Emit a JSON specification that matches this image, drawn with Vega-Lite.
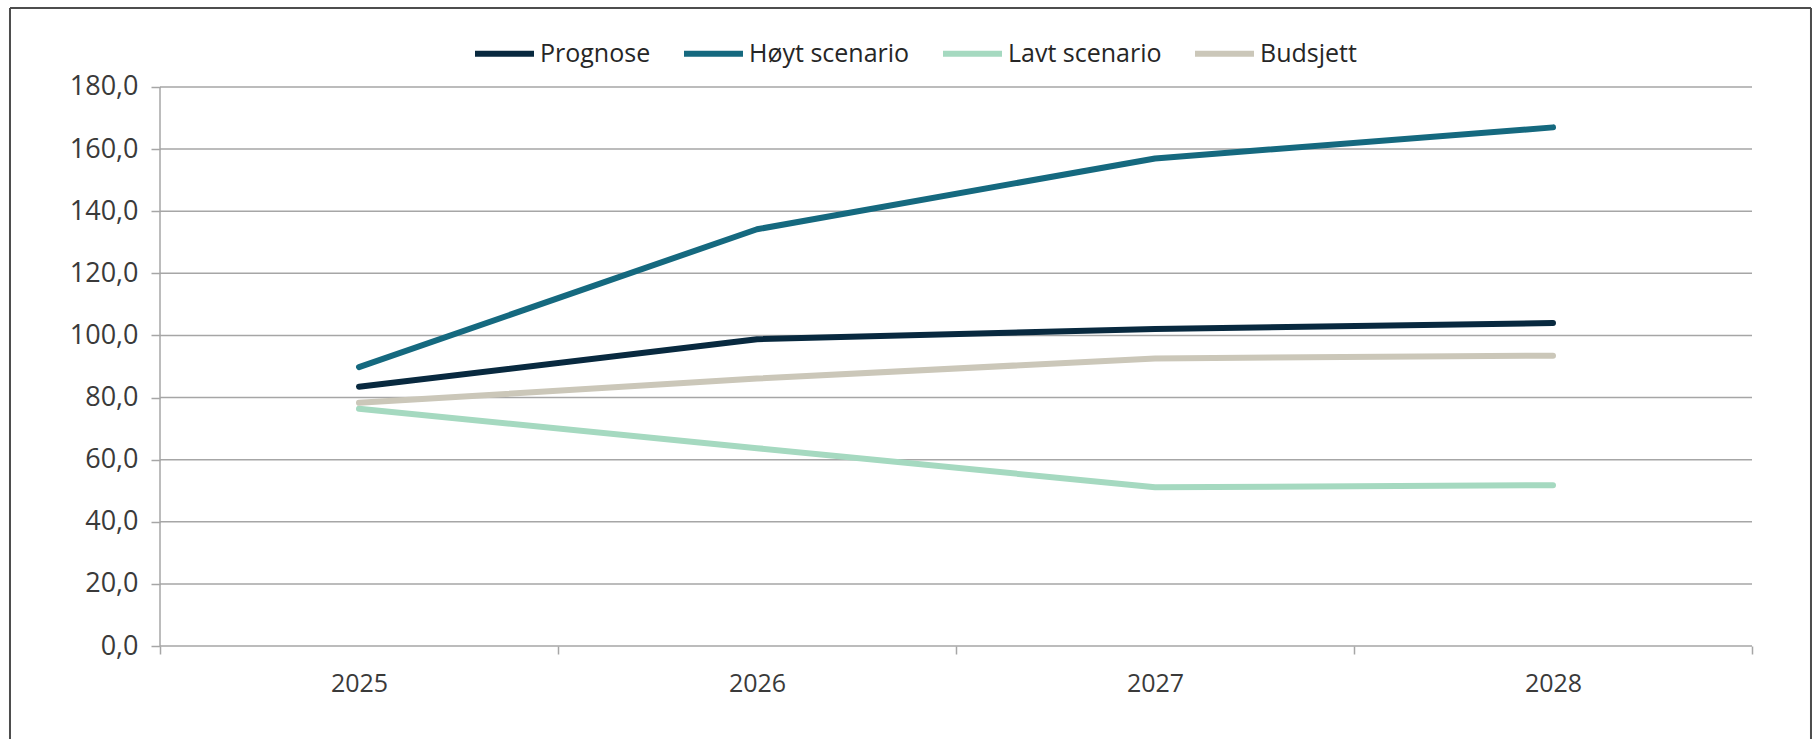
{
  "$schema": "https://vega.github.io/schema/vega-lite/v6.json",
  "width": 1803,
  "height": 732,
  "autosize": {"type": "none"},
  "padding": {"left": 9, "top": 7, "right": 1, "bottom": 0},
  "background": "white",
  "config": {
    "view": {"stroke": null},
    "font": "Open Sans"
  },
  "datasets": {
    "series": [
      {"year": 2025, "serie": "Prognose", "value": 83.5},
      {"year": 2026, "serie": "Prognose", "value": 98.8},
      {"year": 2027, "serie": "Prognose", "value": 102.1},
      {"year": 2028, "serie": "Prognose", "value": 104.0},
      {"year": 2025, "serie": "Høyt scenario", "value": 89.8},
      {"year": 2026, "serie": "Høyt scenario", "value": 134.2},
      {"year": 2027, "serie": "Høyt scenario", "value": 157.0},
      {"year": 2028, "serie": "Høyt scenario", "value": 167.0},
      {"year": 2025, "serie": "Lavt scenario", "value": 76.4},
      {"year": 2026, "serie": "Lavt scenario", "value": 63.7},
      {"year": 2027, "serie": "Lavt scenario", "value": 51.1},
      {"year": 2028, "serie": "Lavt scenario", "value": 51.8},
      {"year": 2025, "serie": "Budsjett", "value": 78.3},
      {"year": 2026, "serie": "Budsjett", "value": 86.1},
      {"year": 2027, "serie": "Budsjett", "value": 92.6},
      {"year": 2028, "serie": "Budsjett", "value": 93.5}
    ],
    "grid": [
      {"v": 0}, {"v": 20}, {"v": 40}, {"v": 60}, {"v": 80},
      {"v": 100}, {"v": 120}, {"v": 140}, {"v": 160}, {"v": 180}
    ],
    "one": [{}]
  },
  "layer": [
    {
      "data": {"name": "grid"},
      "mark": {"type": "rule", "color": "#a6a6a6", "strokeWidth": 1.5},
      "encoding": {
        "y": {
          "field": "v",
          "type": "quantitative",
          "scale": {"domain": [-29.946, 205.76], "nice": false, "zero": false},
          "axis": {
            "orient": "left",
            "offset": -151,
            "values": [0, 20, 40, 60, 80, 100, 120, 140, 160, 180],
            "labelExpr": "replace(format(datum.value, '.1f'), '.', ',')",
            "domain": false,
            "grid": false,
            "title": null,
            "tickSize": 9,
            "tickColor": "#a6a6a6",
            "tickWidth": 1.5,
            "labelPadding": 13,
            "labelFont": "Open Sans",
            "labelFontSize": 27,
            "labelColor": "#3a3a3a",
            "labelOverlap": false,
            "labelFlush": false
          }
        },
        "x": {
          "datum": 2024.5,
          "type": "quantitative",
          "scale": {"domain": [2024.1206, 2028.65075], "nice": false, "zero": false},
          "axis": {
            "orient": "bottom",
            "offset": -93,
            "values": [2024.5, 2025, 2025.5, 2026, 2026.5, 2027, 2027.5, 2028, 2028.5],
            "labelExpr": "datum.value % 1 === 0 ? '' + datum.value : ''",
            "tickOpacity": {"condition": {"test": "datum.value % 1 === 0", "value": 0}, "value": 1},
            "domain": false,
            "grid": false,
            "title": null,
            "tickSize": 8,
            "tickColor": "#a6a6a6",
            "tickWidth": 1.5,
            "labelPadding": 17,
            "labelFont": "Open Sans",
            "labelFontSize": 25,
            "labelColor": "#3a3a3a",
            "labelOverlap": false,
            "labelFlush": false
          }
        },
        "x2": {"datum": 2028.5}
      }
    },
    {
      "data": {"name": "one"},
      "mark": {"type": "rule", "color": "#a6a6a6", "strokeWidth": 1.5},
      "encoding": {
        "x": {"datum": 2024.5, "type": "quantitative"},
        "y": {"datum": 0, "type": "quantitative"},
        "y2": {"datum": 180}
      }
    },
    {
      "data": {"name": "one"},
      "mark": {"type": "rule", "color": "#4d4d4d", "strokeWidth": 2, "clip": false},
      "encoding": {
        "x": {"datum": 2024.1231, "type": "quantitative"},
        "y": {"datum": -29.946, "type": "quantitative"},
        "y2": {"datum": 205.438}
      }
    },
    {
      "data": {"name": "one"},
      "mark": {"type": "rule", "color": "#4d4d4d", "strokeWidth": 2, "clip": false},
      "encoding": {
        "x": {"datum": 2028.6482, "type": "quantitative"},
        "y": {"datum": -29.946, "type": "quantitative"},
        "y2": {"datum": 205.438}
      }
    },
    {
      "data": {"name": "one"},
      "mark": {"type": "rule", "color": "#4d4d4d", "strokeWidth": 2, "clip": false},
      "encoding": {
        "x": {"datum": 2024.1231, "type": "quantitative"},
        "x2": {"datum": 2028.6482},
        "y": {"datum": 205.438, "type": "quantitative"}
      }
    },
    {
      "data": {"name": "series"},
      "mark": {"type": "line", "strokeWidth": 6, "strokeCap": "round", "strokeJoin": "round"},
      "encoding": {
        "x": {"field": "year", "type": "quantitative"},
        "y": {"field": "value", "type": "quantitative"},
        "color": {
          "field": "serie",
          "type": "nominal",
          "scale": {
            "domain": ["Prognose", "Høyt scenario", "Lavt scenario", "Budsjett"],
            "range": ["#08293f", "#15697f", "#a5d9c0", "#cbc7b9"]
          },
          "legend": {
            "orient": "none",
            "legendX": 463,
            "legendY": 14,
            "direction": "horizontal",
            "title": null,
            "symbolType": "stroke",
            "symbolSize": 3481,
            "symbolStrokeWidth": 6,
            "labelOffset": 3,
            "columnPadding": 21,
            "labelLimit": 400,
            "labelFont": "Open Sans",
            "labelFontSize": 25,
            "labelColor": "#262626",
            "padding": 0
          }
        },
        "order": {"field": "year", "type": "quantitative"}
      }
    }
  ]
}
